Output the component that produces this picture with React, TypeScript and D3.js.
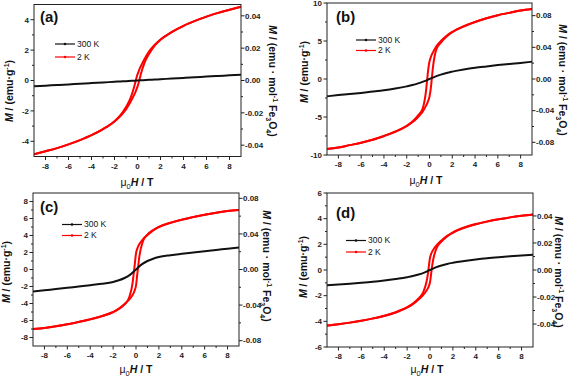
import React from "react";
import * as d3 from "d3";

// ---------- data ----------
const HYST_H = [-9, -8, -7, -6, -5, -4, -3, -2, -1.5, -1, -0.6, -0.3, -0.2, -0.1, 0, 0.1, 0.2, 0.3, 0.6, 1, 1.5, 2, 3, 4, 5, 6, 7, 8, 9];
const RT_H = [-9, -8, -7, -6, -5, -4, -3, -2, -1.5, -1, -0.5, 0, 0.5, 1, 1.5, 2, 3, 4, 5, 6, 7, 8, 9];

const A_2K_DESC = [-4.85, -4.65, -4.45, -4.2, -3.92, -3.6, -3.2, -2.68, -2.3, -1.75, -1.15, -0.45, -0.15, 0.15, 0.4, 0.6, 0.8, 0.95, 1.4, 1.9, 2.35, 2.7, 3.2, 3.6, 3.92, 4.2, 4.45, 4.65, 4.85];
const A_2K_ASC = [-4.85, -4.65, -4.45, -4.2, -3.92, -3.6, -3.2, -2.7, -2.35, -1.9, -1.4, -0.95, -0.8, -0.6, -0.4, -0.15, 0.15, 0.45, 1.15, 1.75, 2.3, 2.68, 3.2, 3.6, 3.92, 4.2, 4.45, 4.65, 4.85];
const A_300K = [-0.38, -0.34, -0.3, -0.26, -0.21, -0.17, -0.13, -0.085, -0.064, -0.043, -0.021, 0, 0.021, 0.043, 0.064, 0.085, 0.13, 0.17, 0.21, 0.26, 0.3, 0.34, 0.38];

const B_2K_DESC = [-9.2, -9.0, -8.7, -8.4, -8.0, -7.5, -6.9, -6.15, -5.6, -4.8, -3.9, -1.5, 0, 1.4, 2.3, 2.8, 3.2, 3.5, 4.3, 5.0, 5.7, 6.2, 6.95, 7.5, 8.0, 8.4, 8.7, 9.0, 9.2];
const B_2K_ASC = [-9.2, -9.0, -8.7, -8.4, -8.0, -7.5, -6.95, -6.2, -5.7, -5.0, -4.3, -3.5, -3.2, -2.8, -2.3, -1.4, 0, 1.5, 3.9, 4.8, 5.6, 6.15, 6.9, 7.5, 8.0, 8.4, 8.7, 9.0, 9.2];
const B_300K = [-2.28, -2.12, -1.98, -1.83, -1.66, -1.48, -1.25, -0.97, -0.8, -0.58, -0.32, 0, 0.32, 0.58, 0.8, 0.97, 1.25, 1.48, 1.66, 1.83, 1.98, 2.12, 2.28];

const C_2K_DESC = [-7.0, -6.87, -6.68, -6.44, -6.16, -5.86, -5.48, -5.0, -4.65, -4.1, -3.3, -1.6, -0.5, 0.7, 1.9, 2.4, 2.75, 3.0, 3.55, 4.05, 4.6, 5.02, 5.5, 5.87, 6.17, 6.45, 6.68, 6.87, 7.0];
const C_2K_ASC = [-7.0, -6.87, -6.68, -6.45, -6.17, -5.87, -5.5, -5.02, -4.6, -4.05, -3.55, -3.0, -2.75, -2.4, -1.9, -0.7, 0.5, 1.6, 3.3, 4.1, 4.65, 5.0, 5.48, 5.86, 6.16, 6.44, 6.68, 6.87, 7.0];
const C_300K = [-2.6, -2.45, -2.3, -2.15, -2.0, -1.85, -1.68, -1.46, -1.27, -1.0, -0.6, 0, 0.6, 1.0, 1.27, 1.46, 1.68, 1.85, 2.0, 2.15, 2.3, 2.45, 2.6];

const D_2K_DESC = [-4.32, -4.22, -4.1, -3.95, -3.77, -3.56, -3.29, -2.9, -2.62, -2.22, -1.75, -0.9, -0.4, 0.3, 0.95, 1.25, 1.45, 1.6, 1.95, 2.3, 2.67, 2.94, 3.31, 3.58, 3.79, 3.96, 4.1, 4.22, 4.32];
const D_2K_ASC = [-4.32, -4.22, -4.1, -3.96, -3.79, -3.58, -3.31, -2.94, -2.67, -2.3, -1.95, -1.6, -1.45, -1.25, -0.95, -0.3, 0.4, 0.9, 1.75, 2.22, 2.62, 2.9, 3.29, 3.56, 3.77, 3.95, 4.1, 4.22, 4.32];
const D_300K = [-1.18, -1.13, -1.07, -1.0, -0.92, -0.82, -0.7, -0.56, -0.47, -0.35, -0.2, 0, 0.2, 0.35, 0.47, 0.56, 0.7, 0.82, 0.92, 1.0, 1.07, 1.13, 1.18];

const X_MAJOR = [-8, -6, -4, -2, 0, 2, 4, 6, 8];
const X_MINOR = [-7, -5, -3, -1, 1, 3, 5, 7];

const A_Y_MAJOR = [-4, -2, 0, 2, 4];
const A_Y_MINOR = [-3, -1, 1, 3];
const B_Y_MAJOR = [-10, -5, 0, 5, 10];
const B_Y_MINOR = [-7.5, -2.5, 2.5, 7.5];
const C_Y_MAJOR = [-8, -6, -4, -2, 0, 2, 4, 6, 8];
const C_Y_MINOR = [-7, -5, -3, -1, 1, 3, 5, 7];
const D_Y_MAJOR = [-6, -4, -2, 0, 2, 4, 6];
const D_Y_MINOR = [-5, -3, -1, 1, 3, 5];

const R_SMALL_MAJOR = [-0.04, -0.02, 0, 0.02, 0.04];
const R_SMALL_MINOR = [-0.03, -0.01, 0.01, 0.03];
const R_BIG_MAJOR = [-0.08, -0.04, 0, 0.04, 0.08];
const R_BIG_MINOR = [-0.06, -0.02, 0.02, 0.06];

const LEGEND = ["300 K", "2 K"];
const PANEL_LABELS = ["(a)", "(b)", "(c)", "(d)"];

const FONT = "'Liberation Sans', Arial, sans-serif";
const RED = "#ff0000";
const BLACK = "#111111";
const AXIS = "#222222";

type PanelCfg = {
  label: string;
  left: number; right: number; top: number; bottom: number;
  yDom: [number, number]; rDom: [number, number];
  yMajor: number[]; yMinor: number[];
  rMajor: number[]; rMinor: number[];
  desc: number[]; asc: number[]; rt: number[];
  labelPos: [number, number];
  legendPos: [number, number, number];
  xTitle: [number, number];
  yTitle: [number, number];
  rTitle: [number, number];
};

const panels: PanelCfg[] = [
  {
    label: PANEL_LABELS[0], left: 34, right: 241, top: 4.5, bottom: 156.5,
    yDom: [-5, 5], rDom: [-0.047, 0.047], yMajor: A_Y_MAJOR, yMinor: A_Y_MINOR,
    rMajor: R_SMALL_MAJOR, rMinor: R_SMALL_MINOR,
    desc: A_2K_DESC, asc: A_2K_ASC, rt: A_300K,
    labelPos: [40, 22], legendPos: [55, 44, 13], xTitle: [137, 182], yTitle: [9, 91], rTitle: [273, 81],
  },
  {
    label: PANEL_LABELS[1], left: 327, right: 532, top: 3, bottom: 155,
    yDom: [-10, 10], rDom: [-0.096, 0.096], yMajor: B_Y_MAJOR, yMinor: B_Y_MINOR,
    rMajor: R_BIG_MAJOR, rMinor: R_BIG_MINOR,
    desc: B_2K_DESC, asc: B_2K_ASC, rt: B_300K,
    labelPos: [336, 22], legendPos: [356, 40, 10.5], xTitle: [426, 180], yTitle: [304, 72], rTitle: [563, 80],
  },
  {
    label: PANEL_LABELS[2], left: 33, right: 239, top: 193, bottom: 346,
    yDom: [-9, 9], rDom: [-0.086, 0.086], yMajor: C_Y_MAJOR, yMinor: C_Y_MINOR,
    rMajor: R_BIG_MAJOR, rMinor: R_BIG_MINOR,
    desc: C_2K_DESC, asc: C_2K_ASC, rt: C_300K,
    labelPos: [40, 212], legendPos: [62, 224.5, 11], xTitle: [136, 369], yTitle: [6, 272], rTitle: [267, 266],
  },
  {
    label: PANEL_LABELS[3], left: 327, right: 533, top: 193, bottom: 347,
    yDom: [-6, 6], rDom: [-0.057, 0.057], yMajor: D_Y_MAJOR, yMinor: D_Y_MINOR,
    rMajor: R_SMALL_MAJOR, rMinor: R_SMALL_MINOR,
    desc: D_2K_DESC, asc: D_2K_ASC, rt: D_300K,
    labelPos: [336, 218], legendPos: [346, 240.5, 11.5], xTitle: [427, 369], yTitle: [303, 267], rTitle: [559, 272],
  },
];

function Panel({ p }: { p: PanelCfg }) {
  const x = d3.scaleLinear().domain([-9, 9]).range([p.left, p.right]);
  const y = d3.scaleLinear().domain(p.yDom).range([p.bottom, p.top]);
  const r = d3.scaleLinear().domain(p.rDom).range([p.bottom, p.top]);
  const line = d3
    .line<[number, number]>()
    .x((d) => x(d[0]))
    .y((d) => y(d[1]))
    .curve(d3.curveMonotoneX);
  const desc = line(HYST_H.map((h, i) => [h, p.desc[i]]) as [number, number][]) || "";
  const asc = line(HYST_H.map((h, i) => [h, p.asc[i]]) as [number, number][]) || "";
  const rt = line(RT_H.map((h, i) => [h, p.rt[i]]) as [number, number][]) || "";
  const clipId = "clip" + p.label.replace(/[()]/g, "");
  const tickFont = { fontFamily: FONT, fontSize: 8, fontWeight: "bold" as const, fill: "#222" };
  const titleFont = { fontFamily: FONT, fontSize: 10.5, fontWeight: "bold" as const, fill: "#111" };
  const [lx, ly, lg] = p.legendPos;
  return (
    <g>
      <defs>
        <clipPath id={clipId}>
          <rect x={p.left} y={p.top} width={p.right - p.left} height={p.bottom - p.top} />
        </clipPath>
      </defs>
      <g clipPath={`url(#${clipId})`} fill="none">
        <path d={desc} stroke={RED} strokeWidth={2} />
        <path d={asc} stroke={RED} strokeWidth={2} />
        <path d={rt} stroke={BLACK} strokeWidth={2} />
      </g>
      <rect x={p.left} y={p.top} width={p.right - p.left} height={p.bottom - p.top} fill="none" stroke={AXIS} strokeWidth={1} />
      {X_MAJOR.map((v) => (
        <g key={"xm" + v}>
          <line x1={x(v)} x2={x(v)} y1={p.bottom} y2={p.bottom + 3.5} stroke={AXIS} />
          <text x={x(v)} y={p.bottom + 12} textAnchor="middle" {...tickFont}>{String(v)}</text>
        </g>
      ))}
      {X_MINOR.map((v) => (
        <line key={"xn" + v} x1={x(v)} x2={x(v)} y1={p.bottom} y2={p.bottom + 2} stroke={AXIS} />
      ))}
      {p.yMajor.map((v) => (
        <g key={"ym" + v}>
          <line x1={p.left - 3.5} x2={p.left} y1={y(v)} y2={y(v)} stroke={AXIS} />
          <text x={p.left - 5} y={y(v)} dy="0.35em" textAnchor="end" {...tickFont}>{String(v)}</text>
        </g>
      ))}
      {p.yMinor.map((v) => (
        <line key={"yn" + v} x1={p.left - 2} x2={p.left} y1={y(v)} y2={y(v)} stroke={AXIS} />
      ))}
      {p.rMajor.map((v) => (
        <g key={"rm" + v}>
          <line x1={p.right} x2={p.right + 3.5} y1={r(v)} y2={r(v)} stroke={AXIS} />
          <text x={p.right + 4} y={r(v)} dy="0.35em" textAnchor="start" {...tickFont}>{v.toFixed(2)}</text>
        </g>
      ))}
      {p.rMinor.map((v) => (
        <line key={"rn" + v} x1={p.right} x2={p.right + 2} y1={r(v)} y2={r(v)} stroke={AXIS} />
      ))}
      <text x={p.labelPos[0]} y={p.labelPos[1]} fontFamily={FONT} fontSize={15} fontWeight="bold" fill="#111">{p.label}</text>
      {LEGEND.map((name, i) => {
        const col = i === 0 ? BLACK : RED;
        const yy = ly + i * lg;
        return (
          <g key={name}>
            <line x1={lx} x2={lx + 20} y1={yy} y2={yy} stroke={col} strokeWidth={1.2} />
            <circle cx={lx + 10} cy={yy} r={1.3} fill={col} />
            <text x={lx + 22} y={yy} dy="0.35em" fontFamily={FONT} fontSize={8.5} fill="#111">{name}</text>
          </g>
        );
      })}
      <text x={p.xTitle[0]} y={p.xTitle[1]} dy="0.35em" textAnchor="middle" {...titleFont}>
        <tspan fontWeight="normal">μ</tspan>
        <tspan fontSize={7.5} fontWeight="normal" dy={3}>0</tspan>
        <tspan dy={-3} fontStyle="italic">H</tspan>
        <tspan> / T</tspan>
      </text>
      <text transform={`translate(${p.yTitle[0]},${p.yTitle[1]}) rotate(-90)`} dy="0.35em" textAnchor="middle" {...titleFont}>
        <tspan fontStyle="italic">M</tspan>
        <tspan> / (emu·g</tspan>
        <tspan fontSize={7} dy={-4}>-1</tspan>
        <tspan dy={4}>)</tspan>
      </text>
      <text transform={`translate(${p.rTitle[0]},${p.rTitle[1]}) rotate(90)`} dy="0.35em" textAnchor="middle" {...titleFont}>
        <tspan fontStyle="italic">M</tspan>
        <tspan> / (emu · mol</tspan>
        <tspan fontSize={7} dy={-4}>-1</tspan>
        <tspan dy={4}> Fe</tspan>
        <tspan fontSize={7} dy={3}>3</tspan>
        <tspan dy={-3}>O</tspan>
        <tspan fontSize={7} dy={3}>4</tspan>
        <tspan dy={-3}>)</tspan>
      </text>
    </g>
  );
}

export default function App() {
  return (
    <svg
      width={576}
      height={377}
      viewBox="0 0 576 377"
      style={{ position: "absolute", left: 0, top: 0, display: "block", background: "#fff" }}
    >
      <rect x={0} y={0} width={576} height={377} fill="#fff" />
      {panels.map((p) => (
        <Panel key={p.label} p={p} />
      ))}
    </svg>
  );
}
